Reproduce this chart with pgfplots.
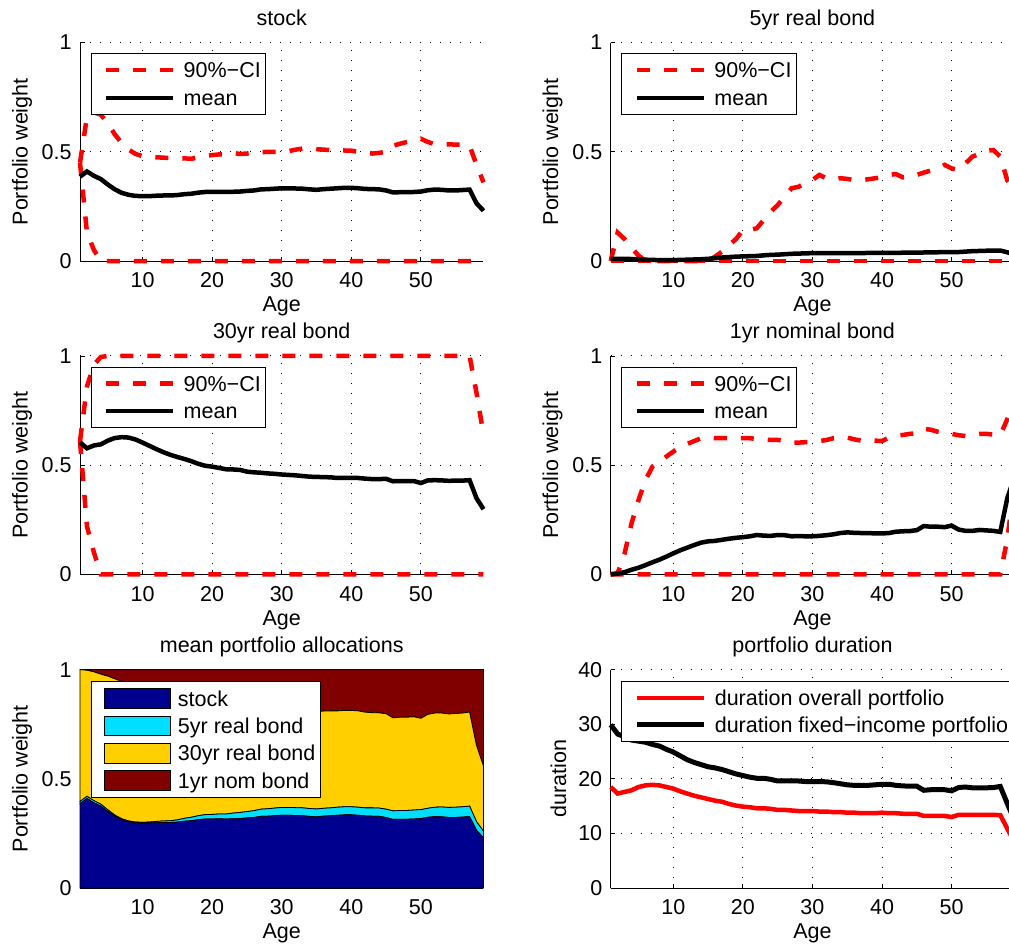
\documentclass[border=0pt]{standalone}
\usepackage{fontspec}
\setmainfont{Liberation Sans}
\usepackage{pgfplots}
\usepackage{pgfplotstable}
\pgfplotsset{compat=1.18}

\definecolor{stockc}{rgb}{0,0,0.5625}
\definecolor{realfive}{rgb}{0,0.875,1}
\definecolor{realthirty}{rgb}{1,0.8125,0}
\definecolor{nomone}{rgb}{0.5,0,0}

\newcommand{\lblfont}{\fontsize{21.5bp}{25bp}\selectfont}

% age | stock: mean lo hi | 5yr real: mean lo hi | 30yr real: mean lo hi | 1yr nominal: mean lo hi | durations
\pgfplotstableread{
age sm slo shi fm flo fhi tm tlo thi nm nlo nhi dall dfi
1 0.386 0.45 0.45 0.010 0 0.000 0.604 0.61 0.61 0.000 0 0.000 18.5 29.9
2 0.410 0.13 0.66 0.010 0 0.130 0.577 0.22 0.86 0.003 0 0.005 17.3 28.2
3 0.390 0.05 0.68 0.010 0 0.100 0.590 0.10 0.96 0.010 0 0.096 17.6 27.7
4 0.375 0 0.67 0.009 0 0.060 0.595 0 0.995 0.021 0 0.234 17.9 27.1
5 0.350 0 0.63 0.008 0 0.025 0.612 0 1 0.030 0 0.340 18.5 26.9
6 0.328 0 0.58 0.006 0 0.000 0.624 0 1 0.042 0 0.432 18.8 26.7
7 0.312 0 0.54 0.005 0 0.000 0.628 0 1 0.055 0 0.493 18.9 26.3
8 0.303 0 0.51 0.004 0 0.000 0.626 0 1 0.067 0 0.516 18.8 26.0
9 0.298 0 0.49 0.004 0 0.000 0.617 0 1 0.081 0 0.539 18.5 25.4
10 0.297 0 0.480 0.004 0 0.000 0.603 0 1 0.096 0 0.562 18.2 24.9
11 0.297 0 0.478 0.005 0 0.000 0.588 0 1 0.110 0 0.585 17.7 24.2
12 0.299 0 0.475 0.006 0 0.000 0.573 0 1 0.122 0 0.597 17.3 23.5
13 0.300 0 0.473 0.007 0 0.000 0.559 0 1 0.134 0 0.610 16.9 23.0
14 0.300 0 0.472 0.008 0 0.000 0.547 0 1 0.145 0 0.623 16.6 22.6
15 0.302 0 0.471 0.010 0 0.000 0.537 0 1 0.151 0 0.627 16.3 22.2
16 0.306 0 0.470 0.013 0 0.020 0.528 0 1 0.153 0 0.623 16.0 22.0
17 0.308 0 0.468 0.016 0 0.043 0.518 0 1 0.158 0 0.623 15.8 21.7
18 0.313 0 0.475 0.018 0 0.073 0.506 0 1 0.163 0 0.623 15.4 21.3
19 0.316 0 0.482 0.020 0 0.100 0.497 0 1 0.167 0 0.623 15.1 20.9
20 0.316 0 0.485 0.021 0 0.142 0.493 0 1 0.170 0 0.623 14.9 20.6
21 0.317 0 0.488 0.022 0 0.142 0.487 0 1 0.174 0 0.623 14.8 20.3
22 0.316 0 0.490 0.023 0 0.150 0.481 0 1 0.180 0 0.620 14.6 20.1
23 0.317 0 0.495 0.026 0 0.188 0.480 0 1 0.177 0 0.618 14.6 20.1
24 0.318 0 0.490 0.028 0 0.226 0.478 0 1 0.176 0 0.615 14.5 19.9
25 0.321 0 0.492 0.029 0 0.256 0.470 0 1 0.180 0 0.615 14.3 19.6
26 0.323 0 0.496 0.031 0 0.295 0.467 0 1 0.179 0 0.612 14.3 19.6
27 0.328 0 0.498 0.033 0 0.333 0.465 0 1 0.174 0 0.603 14.2 19.6
28 0.329 0 0.500 0.034 0 0.340 0.462 0 1 0.175 0 0.603 14.1 19.6
29 0.331 0 0.500 0.035 0 0.356 0.460 0 1 0.174 0 0.605 14.1 19.5
30 0.333 0 0.500 0.036 0 0.371 0.457 0 1 0.174 0 0.605 14.1 19.5
31 0.333 0 0.503 0.036 0 0.394 0.455 0 1 0.176 0 0.610 14.0 19.5
32 0.332 0 0.510 0.036 0 0.379 0.453 0 1 0.179 0 0.615 14.0 19.45
33 0.331 0 0.515 0.036 0 0.374 0.450 0 1 0.183 0 0.623 13.9 19.3
34 0.328 0 0.518 0.036 0 0.379 0.447 0 1 0.189 0 0.626 13.9 19.1
35 0.326 0 0.512 0.036 0 0.376 0.446 0 1 0.192 0 0.626 13.8 18.9
36 0.329 0 0.510 0.036 0 0.371 0.445 0 1 0.190 0 0.618 13.8 18.8
37 0.331 0 0.508 0.036 0 0.371 0.444 0 1 0.189 0 0.612 13.7 18.8
38 0.333 0 0.507 0.037 0 0.374 0.441 0 1 0.189 0 0.615 13.7 18.8
39 0.335 0 0.506 0.037 0 0.379 0.441 0 1 0.187 0 0.612 13.7 18.9
40 0.335 0 0.505 0.037 0 0.383 0.441 0 1 0.187 0 0.610 13.8 19.0
41 0.333 0 0.500 0.037 0 0.394 0.441 0 1 0.189 0 0.626 13.7 19.0
42 0.330 0 0.495 0.037 0 0.398 0.438 0 1 0.195 0 0.635 13.7 18.8
43 0.329 0 0.492 0.038 0 0.383 0.436 0 1 0.197 0 0.638 13.6 18.7
44 0.328 0 0.495 0.038 0 0.386 0.436 0 1 0.198 0 0.643 13.6 18.65
45 0.323 0 0.500 0.038 0 0.394 0.437 0 1 0.202 0 0.646 13.6 18.65
46 0.314 0 0.528 0.039 0 0.405 0.426 0 1 0.221 0 0.666 13.2 17.9
47 0.315 0 0.537 0.040 0 0.414 0.427 0 1 0.218 0 0.662 13.2 18.0
48 0.315 0 0.545 0.040 0 0.424 0.427 0 1 0.218 0 0.653 13.2 18.0
49 0.316 0 0.553 0.041 0 0.440 0.427 0 1 0.216 0 0.649 13.2 18.0
50 0.318 0 0.560 0.041 0 0.424 0.418 0 1 0.223 0 0.643 13.0 17.8
51 0.324 0 0.545 0.041 0 0.417 0.430 0 1 0.205 0 0.637 13.4 18.4
52 0.327 0 0.535 0.043 0 0.447 0.431 0 1 0.199 0 0.633 13.4 18.5
53 0.326 0 0.535 0.045 0 0.478 0.430 0 1 0.199 0 0.637 13.4 18.35
54 0.323 0 0.534 0.046 0 0.490 0.428 0 1 0.203 0 0.643 13.4 18.35
55 0.323 0 0.533 0.047 0 0.505 0.429 0 1 0.201 0 0.643 13.4 18.35
56 0.325 0 0.532 0.047 0 0.508 0.429 0 1 0.199 0 0.640 13.4 18.4
57 0.327 0 0.528 0.048 0 0.478 0.431 0 1 0.194 0 0.637 13.35 18.6
58 0.264 0 0.440 0.040 0 0.370 0.348 0 0.83 0.348 0.16 0.710 10.9 15.5
59 0.230 0 0.360 0.030 0 0.330 0.298 0 0.64 0.442 0.40 0.780 8.5 12.5
}\portfolio

\pgfplotsset{
  panel/.style={
    scale only axis, width=403.5bp, height=218.4bp, anchor=south west,
    xmin=1, xmax=59, xtick={10,20,30,40,50},
    axis x line*=bottom, axis y line*=left,
    axis line style={black, line width=0.9bp},
    tick align=inside, major tick length=4.5bp,
    tick style={black, line width=0.8bp},
    grid=major,
    major grid style={black, line width=0.9bp, dash pattern=on 1bp off 9bp},
    clip=false,
    /pgf/number format/assume math mode=true,
    tick label style={font=\lblfont, inner sep=0pt},
    xticklabel style={anchor=base, yshift=-26.7bp},
    yticklabel style={anchor=east, xshift=-8.3bp},
    every axis x label/.style={at={(axis description cs:0.5,-0.2321)}, anchor=base, font=\lblfont, inner sep=0pt},
    every axis y label/.style={at={(axis description cs:-0.1301,0.5)}, anchor=base, rotate=90, font=\lblfont, inner sep=0pt},
    every axis title/.style={at={(axis description cs:0.5,1.08)}, anchor=base, font=\lblfont, inner sep=0pt},
    xlabel={Age},
  },
  weight/.style={ymin=0, ymax=1, ytick={0,0.5,1}, ylabel={Portfolio weight}},
  lineleg/.style={
    legend cell align=left,
    legend image code/.code={\path (0bp,0bp); \draw[##1] (8bp,0bp) -- (75bp,0bp);},
    legend style={at={(0.0265,0.9514)}, anchor=north west, draw=black, line width=1bp,
      fill=white, inner xsep=5bp, inner ysep=8.8bp, row sep=12.3bp,
      /tikz/every odd column/.append style={column sep=8bp}, font=\lblfont,
      nodes={inner sep=0pt, text height=15.4bp, text depth=0pt}},
  },
  arealeg/.style={
    legend cell align=left,
    legend image code/.code={\path (0bp,0bp); \draw[##1, draw=black, line width=0.8bp] (7.6bp,-9.85bp) rectangle (74.3bp,9.85bp);},
    legend style={at={(0.0265,0.949)}, anchor=north west, draw=black, line width=1bp,
      fill=white, inner xsep=5bp, inner ysep=6.9bp, row sep=6.9bp,
      /tikz/every odd column/.append style={column sep=6.7bp}, font=\lblfont,
      nodes={inner sep=0pt, text height=15.4bp, text depth=0pt}},
  },
  ci/.style={red, line width=4.5bp, dash pattern=on 13bp off 14bp},
  avg/.style={black, line width=4.5bp},
}

\begin{document}
\begin{tikzpicture}

% stock
\begin{axis}[panel, weight, lineleg, at={(80bp,-261bp)}, title={stock}]
\addplot[ci] table[x=age, y=shi] {\portfolio};
\addlegendentry{90\%−CI}
\addplot[ci, forget plot] table[x=age, y=slo] {\portfolio};
\addplot[avg] table[x=age, y=sm] {\portfolio};
\addlegendentry{mean}
\end{axis}

% 5yr real bond
\begin{axis}[panel, weight, lineleg, at={(610.7bp,-261bp)}, title={5yr real bond}]
\addplot[ci] table[x=age, y=fhi] {\portfolio};
\addlegendentry{90\%−CI}
\addplot[ci, forget plot] table[x=age, y=flo] {\portfolio};
\addplot[avg] table[x=age, y=fm] {\portfolio};
\addlegendentry{mean}
\end{axis}

% 30yr real bond
\begin{axis}[panel, weight, lineleg, at={(80bp,-574.3bp)}, title={30yr real bond}]
\addplot[ci] table[x=age, y=thi] {\portfolio};
\addlegendentry{90\%−CI}
\addplot[ci, forget plot] table[x=age, y=tlo] {\portfolio};
\addplot[avg] table[x=age, y=tm] {\portfolio};
\addlegendentry{mean}
\end{axis}

% 1yr nominal bond
\begin{axis}[panel, weight, lineleg, at={(610.7bp,-574.3bp)}, title={1yr nominal bond}]
\addplot[ci] table[x=age, y=nhi] {\portfolio};
\addlegendentry{90\%−CI}
\addplot[ci, forget plot] table[x=age, y=nlo] {\portfolio};
\addplot[avg] table[x=age, y=nm] {\portfolio};
\addlegendentry{mean}
\end{axis}

% stacked mean allocations
\begin{axis}[panel, weight, arealeg, grid=none, stack plots=y,
    at={(80bp,-888bp)}, title={mean portfolio allocations}]
\addplot[fill=stockc, draw=black, line width=0.8bp] table[x=age, y=sm] {\portfolio} \closedcycle;
\addlegendentry{stock}
\addplot[fill=realfive, draw=black, line width=0.8bp] table[x=age, y=fm] {\portfolio} \closedcycle;
\addlegendentry{5yr real bond}
\addplot[fill=realthirty, draw=black, line width=0.8bp] table[x=age, y=tm] {\portfolio} \closedcycle;
\addlegendentry{30yr real bond}
\addplot[fill=nomone, draw=black, line width=0.8bp] table[x=age, y=nm] {\portfolio} \closedcycle;
\addlegendentry{1yr nom bond}
\end{axis}

% duration
\begin{axis}[panel, lineleg, at={(610.7bp,-888bp)}, title={portfolio duration},
    ymin=0, ymax=40, ytick={0,10,20,30,40}, ylabel={duration},
    every axis y label/.append style={at={(axis description cs:-0.1108,0.5)}},
    legend style={at={(0.0263,0.9479)}, row sep=11.6bp}]
\addplot[red, line width=4.5bp] table[x=age, y=dall] {\portfolio};
\addlegendentry{duration overall portfolio}
\addplot[black, line width=5bp] table[x=age, y=dfi] {\portfolio};
\addlegendentry{duration fixed−income portfolio}
\end{axis}

\pgfresetboundingbox
\useasboundingbox (0bp,0bp) rectangle (1009bp,-948bp);
\end{tikzpicture}
\end{document}
